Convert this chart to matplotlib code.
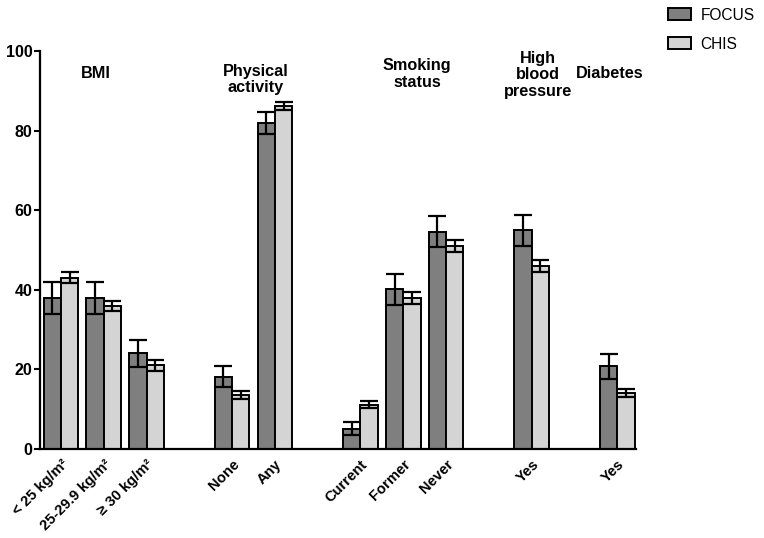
import matplotlib
matplotlib.use('Agg')
import matplotlib.pyplot as plt
from matplotlib.patches import Patch

plt.rcParams['font.family'] = ['Liberation Sans', 'DejaVu Sans']

# category labels and where each pair sits on the x axis
categories = ['< 25 kg/m²', '25-29.9 kg/m²', '≥ 30 kg/m²', 'None', 'Any',
              'Current', 'Former', 'Never', 'Yes', 'Yes']
positions = [0, 1, 2, 4, 5, 7, 8, 9, 11, 13]

focus = [38, 38, 24, 18.2, 81.9, 5.1, 40.1, 54.6, 55, 20.8]
focus_err = [4, 4, 3.5, 2.7, 2.7, 1.6, 3.8, 3.9, 3.9, 3.1]
chis = [43, 36, 21, 13.6, 86.3, 11.1, 37.9, 51.1, 46, 14.1]
chis_err = [1.4, 1.3, 1.3, 1.0, 1.0, 0.9, 1.5, 1.5, 1.6, 1.1]

groups = ['BMI', 'Physical\nactivity', 'Smoking\nstatus', 'High\nblood\npressure', 'Diabetes']
group_x = [0.82, 4.55, 8.32, 11.14, 12.83]
group_y = [94.4, 92.8, 94.2, 94.0, 94.4]

dark = '#7f7f7f'
light = '#d4d4d4'

fig = plt.figure(figsize=(7.64, 5.38), dpi=100)
ax = fig.add_axes([40/764, 1-449/538, 596/764, 398/538])

w = 0.405
xf = [p - w/2 for p in positions]
xc = [p + w/2 for p in positions]
ekw = dict(elinewidth=1.6, capthick=1.6, ecolor='black', zorder=3)
ax.bar(xf, focus, width=w, color=dark, edgecolor='black', linewidth=1.4,
       yerr=focus_err, capsize=6.5, error_kw=ekw)
ax.bar(xc, chis, width=w, color=light, edgecolor='black', linewidth=1.4,
       yerr=chis_err, capsize=6.5, error_kw=ekw)

ax.set_xlim(-0.49, 13.44)
ax.set_ylim(0, 100)
ax.set_yticks([0, 20, 40, 60, 80, 100])
ax.set_xticks(positions)
ax.set_xticklabels(categories, rotation=45, ha='right', rotation_mode='anchor',
                   fontsize=10.6, fontweight='bold')
ax.tick_params(axis='x', length=0, pad=6)
ax.tick_params(axis='y', labelsize=11.5, width=1.5, length=4, pad=1.5)
for lab in ax.get_yticklabels():
    lab.set_fontweight('bold')
for s in ['top', 'right']:
    ax.spines[s].set_visible(False)
for s in ['left', 'bottom']:
    ax.spines[s].set_linewidth(1.6)

for g, gx, gy in zip(groups, group_x, group_y):
    ax.text(gx, gy, g, ha='center', va='center', fontsize=11.7,
            fontweight='bold', linespacing=1.12)

handles = [Patch(facecolor=dark, edgecolor='black', linewidth=1.4),
           Patch(facecolor=light, edgecolor='black', linewidth=1.4)]
fig.legend(handles, ['FOCUS', 'CHIS'], loc='upper left',
           bbox_to_anchor=(668/764, 0.986), frameon=False, fontsize=11.2,
           borderpad=0, borderaxespad=0, handlelength=1.45, handleheight=0.8,
           handletextpad=0.65, labelspacing=0.9)

fig.savefig('out.png', dpi=100)
